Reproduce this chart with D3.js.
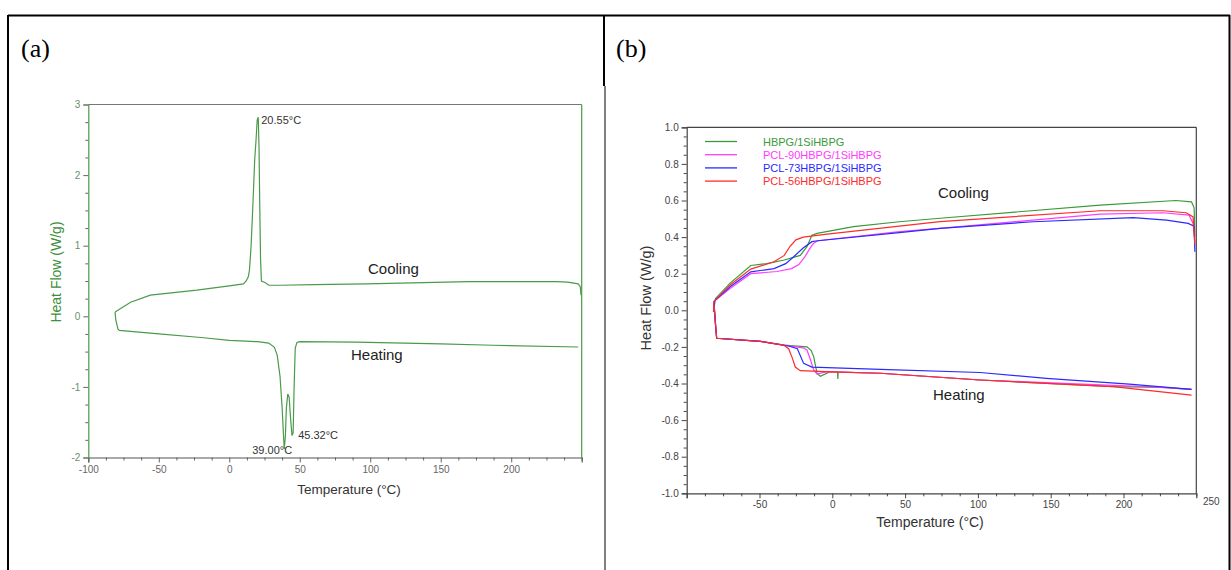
<!DOCTYPE html>
<html>
<head>
<meta charset="utf-8">
<script src="https://cdn.jsdelivr.net/npm/d3@7"></script>
<style>
  body { margin: 0; background: #fff; }
  text { font-family: "Liberation Sans", Arial, sans-serif; }
</style>
</head>
<body>
<div id="vis"></div>
<script>
/*
 * DSC curves, (a) one sample, (b) four blends.
 * Points are [temperature in C, heat flow in W/g].
 */

// panel (a)
var coolingA = [
  [249.5, 0.30], [249, 0.42], [247.5, 0.46], [240, 0.485], [232, 0.49], [170, 0.49],
  [97, 0.46], [60, 0.45], [36, 0.44], [28, 0.44], [25.3, 0.48], [22.8, 0.5],
  [22.2, 0.8], [21.6, 1.6], [21.1, 2.4], [20.55, 2.82], [19.8, 2.78], [19, 2.5],
  [18, 2.2], [16.8, 1.6], [15.5, 1.0], [14.3, 0.65], [13.5, 0.56], [12, 0.5],
  [10, 0.46], [0, 0.43], [-23, 0.37], [-56, 0.30], [-70, 0.2], [-81, 0.06]
];
var heatingA = [
  [-81, 0.06], [-80.5, -0.05], [-79, -0.18], [-78, -0.2], [-50, -0.25], [-20, -0.3],
  [0, -0.34], [20, -0.36], [28, -0.38], [32, -0.44], [34, -0.55], [36, -0.85],
  [37.5, -1.3], [38.5, -1.7], [39, -1.88], [39.8, -1.7], [40.5, -1.3], [41.5, -1.1],
  [42.5, -1.15], [43.5, -1.45], [44.5, -1.69], [45.3, -1.65], [46, -1.0], [46.8, -0.45],
  [48, -0.37], [50, -0.36], [90, -0.365], [150, -0.39], [187, -0.41], [247.5, -0.435]
];
var peakLabelsA = ['20.55\u00b0C', '39.00\u00b0C', '45.32\u00b0C'];
var peakPointsA = [[20.55, 2.82], [39, -1.88], [45.32, -1.69]];
var xTicksA = [-100, -50, 0, 50, 100, 150, 200];
var yTicksA = [-2, -1, 0, 1, 2, 3];

// panel (b)
var seriesNames = ['HBPG/1SiHBPG', 'PCL-90HBPG/1SiHBPG', 'PCL-73HBPG/1SiHBPG', 'PCL-56HBPG/1SiHBPG'];
var seriesColors = ['#3a9a3a', '#ff3cff', '#2a2aff', '#ff2a2a'];

var coolingGreen = [
  [249, 0.40], [248.5, 0.56], [246.7, 0.593], [236, 0.6], [184, 0.575], [74, 0.503],
  [46, 0.484], [14.6, 0.457], [-10.5, 0.42], [-14, 0.41], [-17.4, 0.348], [-22, 0.30],
  [-33, 0.275], [-45, 0.255], [-56, 0.245], [-70, 0.15], [-80.2, 0.065], [-81.5, 0.0]
];
var coolingMagenta = [
  [249, 0.38], [247.8, 0.475], [245, 0.52], [227, 0.533], [184, 0.526], [74, 0.448],
  [46, 0.43], [-10, 0.38], [-13, 0.365], [-16, 0.33], [-19, 0.29], [-23, 0.25],
  [-28, 0.228], [-38, 0.212], [-56, 0.20], [-70, 0.12], [-81, 0.05], [-81.5, 0.0]
];
var coolingBlue = [
  [249, 0.32], [248.5, 0.46], [244.4, 0.475], [229.6, 0.493], [206.7, 0.506], [138, 0.484],
  [74, 0.448], [46, 0.424], [-10, 0.38], [-14, 0.375], [-20, 0.34], [-26.5, 0.293],
  [-32, 0.255], [-40, 0.228], [-56, 0.21], [-70, 0.13], [-81, 0.05], [-81.5, 0.0]
];
var coolingRed = [
  [249, 0.36], [247.8, 0.51], [243, 0.533], [227, 0.544], [184, 0.544], [74, 0.485],
  [46, 0.46], [-5, 0.415], [-20, 0.40], [-25, 0.385], [-29, 0.35], [-33, 0.30],
  [-40, 0.265], [-56, 0.225], [-70, 0.14], [-81.4, 0.047], [-81.6, -0.01]
];

var heatingGreen = [
  [-81, 0.01], [-80, -0.1], [-79.4, -0.153], [-49.4, -0.17], [-33.4, -0.19], [-17.4, -0.2],
  [-14.5, -0.22], [-12.8, -0.253], [-10.5, -0.345], [-8.2, -0.36], [-1.4, -0.335],
  [3.6, -0.338], [3.8, -0.375], [4.0, -0.338], [33, -0.344], [101.5, -0.381],
  [193, -0.417], [227, -0.421], [246.7, -0.432]
];
var heatingMagenta = [
  [-81, 0.01], [-80, -0.1], [-79.4, -0.153], [-49.4, -0.17], [-33.4, -0.19], [-20, -0.205],
  [-17.4, -0.217], [-15, -0.27], [-12.8, -0.326], [-10.5, -0.348], [-3.7, -0.335],
  [33, -0.344], [101.5, -0.381], [193, -0.41], [220, -0.418], [246.7, -0.432]
];
var heatingBlue = [
  [-81, 0.01], [-80, -0.1], [-79.4, -0.153], [-49.4, -0.17], [-30, -0.195], [-24, -0.21],
  [-19.7, -0.29], [-14, -0.31], [33, -0.323], [101.5, -0.34], [147, -0.372],
  [204, -0.403], [246.7, -0.432]
];
var heatingRed = [
  [-81, 0.01], [-80, -0.1], [-79.4, -0.153], [-49.4, -0.17], [-33.4, -0.19], [-30, -0.21],
  [-27.5, -0.26], [-25.4, -0.31], [-22, -0.33], [0, -0.337], [33, -0.344],
  [101.5, -0.381], [193, -0.417], [246.7, -0.463]
];
var coolingB = [coolingGreen, coolingMagenta, coolingBlue, coolingRed];
var heatingB = [heatingGreen, heatingMagenta, heatingBlue, heatingRed];
var xTicksB = [-50, 0, 50, 100, 150, 200];
var yTicksB = [-1, -0.8, -0.6, -0.4, -0.2, 0, 0.2, 0.4, 0.6, 0.8, 1];

var width = 1231;
var height = 570;

var svg = d3.select('#vis').append('svg')
  .attr('width', width)
  .attr('height', height)
  .style('display', 'block');

svg.append('rect').attr('width', width).attr('height', height).attr('fill', '#fff');

// table borders around the two cells
var border = svg.append('g').attr('stroke', '#000').attr('stroke-width', 2);
border.append('line').attr('x1', 8).attr('x2', 1230).attr('y1', 15.5).attr('y2', 15.5);
border.append('line').attr('x1', 8).attr('x2', 8).attr('y1', 15).attr('y2', 570);
border.append('line').attr('x1', 1229.5).attr('x2', 1229.5).attr('y1', 15).attr('y2', 570);
border.append('line').attr('x1', 604).attr('x2', 604).attr('y1', 15).attr('y2', 86);
border.append('line').attr('x1', 605).attr('x2', 605).attr('y1', 86).attr('y2', 570)
  .attr('stroke-width', 1);

svg.append('text').attr('x', 21).attr('y', 57).text('(a)')
  .style('font-family', '"Liberation Serif", "Times New Roman", serif')
  .style('font-size', '26px');
svg.append('text').attr('x', 616).attr('y', 57).text('(b)')
  .style('font-family', '"Liberation Serif", "Times New Roman", serif')
  .style('font-size', '26px');

function minorValues(lo, hi, step, majors) {
  return d3.range(lo, hi + step / 2, step).filter(function (v) {
    return !majors.some(function (m) { return Math.abs(m - v) < 1e-6; });
  });
}

/*
 * panel (a)
 */
function drawPanelA() {
  var x = d3.scaleLinear().domain([-100, 250]).range([88.3, 581.7]);
  var y = d3.scaleLinear().domain([-2, 3]).range([457.5, 104.5]);
  var g = svg.append('g');
  var green = '#4a9a4a';

  // frame
  g.append('line').attr('x1', x(-100)).attr('x2', x(250)).attr('y1', y(3)).attr('y2', y(3))
    .attr('stroke', '#777').attr('stroke-width', 1.2);
  g.append('line').attr('x1', x(250)).attr('x2', x(250)).attr('y1', y(3)).attr('y2', y(-2))
    .attr('stroke', green).attr('stroke-width', 1.2);

  var xMinor = g.append('g').attr('transform', 'translate(0,' + y(-2) + ')')
    .call(d3.axisBottom(x).tickValues(minorValues(-100, 250, 12.5, xTicksA)).tickSize(3).tickFormat(''));
  var xAxis = g.append('g').attr('transform', 'translate(0,' + y(-2) + ')')
    .call(d3.axisBottom(x).tickValues(xTicksA).tickSize(5).tickPadding(3)
      .tickFormat(function (d) { return String(d); }));
  var yMinor = g.append('g').attr('transform', 'translate(' + x(-100) + ',0)')
    .call(d3.axisLeft(y).tickValues(minorValues(-2, 3, 0.25, yTicksA)).tickSize(3).tickFormat(''));
  var yAxis = g.append('g').attr('transform', 'translate(' + x(-100) + ',0)')
    .call(d3.axisLeft(y).tickValues(yTicksA).tickSize(5).tickPadding(3)
      .tickFormat(function (d) { return String(d); }));

  [xMinor, yMinor].forEach(function (a) { a.select('.domain').remove(); });
  g.selectAll('.tick line').attr('stroke', '#666');
  xAxis.select('.domain').attr('stroke', '#555').attr('stroke-width', 1.2);
  yAxis.select('.domain').attr('stroke', green).attr('stroke-width', 1.2);
  xAxis.selectAll('text').style('font-size', '10px').attr('fill', '#666');
  yAxis.selectAll('text').style('font-size', '10px').attr('fill', '#6a8f6a');

  var line = d3.line()
    .x(function (d) { return x(d[0]); })
    .y(function (d) { return y(d[1]); });

  [coolingA, heatingA].forEach(function (pts) {
    g.append('path').datum(pts)
      .attr('d', line)
      .attr('fill', 'none')
      .attr('stroke', green)
      .attr('stroke-width', 1.2);
  });

  // peak labels, placed next to their peak point
  var offsets = [[3, 7], [-32, 5], [5, 3]];
  peakLabelsA.forEach(function (t, i) {
    g.append('text')
      .attr('x', x(peakPointsA[i][0]) + offsets[i][0])
      .attr('y', y(peakPointsA[i][1]) + offsets[i][1])
      .style('font-size', '11px')
      .attr('fill', '#333')
      .text(t);
  });

  g.append('text').attr('x', 368).attr('y', 274).style('font-size', '15px').attr('fill', '#222').text('Cooling');
  g.append('text').attr('x', 351).attr('y', 360).style('font-size', '15px').attr('fill', '#222').text('Heating');

  g.append('text').attr('x', 349).attr('y', 494).attr('text-anchor', 'middle')
    .style('font-size', '13.5px').attr('fill', '#333').text('Temperature (\u00b0C)');
  g.append('text').attr('transform', 'translate(61,272) rotate(-90)').attr('text-anchor', 'middle')
    .style('font-size', '14px').attr('fill', '#3c8f3c').text('Heat Flow (W/g)');
}

/*
 * panel (b)
 */
function drawPanelB() {
  var x = d3.scaleLinear().domain([-100, 250]).range([686.7, 1196.3]);
  var y = d3.scaleLinear().domain([-1, 1]).range([493.3, 127.3]);
  var g = svg.append('g');

  g.append('line').attr('x1', x(-100)).attr('x2', x(250)).attr('y1', y(1)).attr('y2', y(1))
    .attr('stroke', '#444').attr('stroke-width', 1.2);
  g.append('line').attr('x1', x(250)).attr('x2', x(250)).attr('y1', y(1)).attr('y2', y(-1))
    .attr('stroke', '#444').attr('stroke-width', 1.2);

  var xMinor = g.append('g').attr('transform', 'translate(0,' + y(-1) + ')')
    .call(d3.axisBottom(x).tickValues(minorValues(-100, 250, 12.5, xTicksB.concat([-100]))).tickSize(3).tickFormat(''));
  var xAxis = g.append('g').attr('transform', 'translate(0,' + y(-1) + ')')
    .call(d3.axisBottom(x).tickValues([-100].concat(xTicksB)).tickSize(5).tickPadding(3)
      .tickFormat(function (d) { return d === -100 ? '' : String(d); }));
  var yMinor = g.append('g').attr('transform', 'translate(' + x(-100) + ',0)')
    .call(d3.axisLeft(y).tickValues(minorValues(-1, 1, 0.05, yTicksB)).tickSize(3).tickFormat(''));
  var yAxis = g.append('g').attr('transform', 'translate(' + x(-100) + ',0)')
    .call(d3.axisLeft(y).tickValues(yTicksB).tickSize(5).tickPadding(3)
      .tickFormat(function (d) { return d.toFixed(1); }));

  [xMinor, yMinor].forEach(function (a) { a.select('.domain').remove(); });
  g.selectAll('.tick line').attr('stroke', '#444');
  g.selectAll('.domain').attr('stroke', '#444').attr('stroke-width', 1.2);
  g.selectAll('.tick text').style('font-size', '10px').attr('fill', '#444');

  // the 250 label sits off to the right of its axis end
  g.append('text').attr('x', x(250) + 15).attr('y', y(-1) + 11.5).attr('text-anchor', 'middle')
    .style('font-size', '10px').attr('fill', '#444').text('250');

  var line = d3.line()
    .x(function (d) { return x(d[0]); })
    .y(function (d) { return y(d[1]); });

  seriesNames.forEach(function (name, i) {
    [coolingB[i], heatingB[i]].forEach(function (pts) {
      g.append('path').datum(pts)
        .attr('d', line)
        .attr('fill', 'none')
        .attr('stroke', seriesColors[i])
        .attr('stroke-width', 1.2);
    });
  });

  // legend
  var legend = g.append('g');
  seriesNames.forEach(function (name, i) {
    var ly = 141.5 + i * 13.2;
    legend.append('line').attr('x1', 705).attr('x2', 737).attr('y1', ly).attr('y2', ly)
      .attr('stroke', seriesColors[i]).attr('stroke-width', 1.3);
    legend.append('text').attr('x', 763).attr('y', ly + 4)
      .style('font-size', '11px').attr('fill', seriesColors[i]).text(name);
  });

  g.append('text').attr('x', 938).attr('y', 198).style('font-size', '15px').attr('fill', '#222').text('Cooling');
  g.append('text').attr('x', 933).attr('y', 400).style('font-size', '15px').attr('fill', '#222').text('Heating');

  g.append('text').attr('x', 930).attr('y', 527).attr('text-anchor', 'middle')
    .style('font-size', '14px').attr('fill', '#333').text('Temperature (\u00b0C)');
  g.append('text').attr('transform', 'translate(651,298) rotate(-90)').attr('text-anchor', 'middle')
    .style('font-size', '14.5px').attr('fill', '#333').text('Heat Flow (W/g)');
}

drawPanelA();
drawPanelB();
</script>
</body>
</html>
